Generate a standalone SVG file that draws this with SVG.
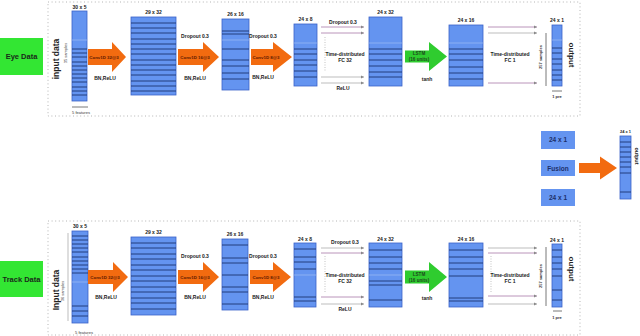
<svg xmlns="http://www.w3.org/2000/svg" width="640" height="336" viewBox="0 0 640 336">
<defs>
<style>
.bg{fill:#ffffff}
.border{fill:none;stroke:#b4b4b4;stroke-width:1;stroke-dasharray:1 2.6}
.blk{fill:#6494f0;stroke:#3a62c8;stroke-width:0.8}
.st{fill:none;stroke:#1c3470;stroke-width:0.9}
.stl{fill:none;stroke:#a8c2f6;stroke-width:0.6}
.orange{fill:#f26b10}
.lstm{fill:#2fcc2f}
.src{fill:#33e633}
.t{font-family:"Liberation Sans",Arial,sans-serif;font-weight:bold;font-size:5px;fill:#222;text-anchor:middle}
.ta{font-family:"Liberation Sans",Arial,sans-serif;font-weight:bold;font-size:4.4px;fill:#5a1800;text-anchor:middle}
.tg{font-family:"Liberation Sans",Arial,sans-serif;font-weight:bold;font-size:4.6px;fill:#1d4a1d;text-anchor:middle}
.ts{font-family:"Liberation Sans",Arial,sans-serif;font-size:4px;fill:#333;text-anchor:middle}
.big{font-family:"Liberation Sans",Arial,sans-serif;font-weight:bold;font-size:8.5px;fill:#222;text-anchor:middle}
.src-t{font-family:"Liberation Sans",Arial,sans-serif;font-weight:bold;font-size:7.5px;fill:#1a2a1a;text-anchor:middle}
.fz{fill:#6494f0}
.fzt{font-family:"Liberation Sans",Arial,sans-serif;font-weight:bold;font-size:6.5px;fill:#1c2f6a;text-anchor:middle}
.lp{fill:none;stroke:#a878a8;stroke-width:0.8}
.lg{fill:none;stroke:#a0a0a0;stroke-width:0.7}
.ld{fill:none;stroke:#555;stroke-width:0.8}
.dot{fill:none;stroke:#aaa;stroke-width:0.7;stroke-dasharray:1 1.5}
</style>
<marker id="ah" markerWidth="4" markerHeight="4" refX="3" refY="2" orient="auto" markerUnits="userSpaceOnUse"><path d="M0,0.5 L3,2 L0,3.5 Z" fill="#888"/></marker>
</defs>
<rect class="bg" x="0" y="0" width="640" height="336"/>

<!-- ========== TOP ROW (Eye) ========== -->
<rect class="border" x="48" y="2" width="532" height="114"/>
<g id="eye-data">
<rect class="src" x="0" y="38" width="43" height="37"/>
<text class="src-t" x="21.5" y="59">Eye Data</text>
</g>
<g id="eye-input">
<text class="big" transform="translate(59,59) rotate(-90)">input data</text>
<text class="ts" transform="translate(67,53) rotate(-90)">35 samples</text>
<rect class="blk" x="72" y="11" width="15" height="90"/>
<path class="stl" d="M72 40H87"/>
<path class="st" d="M72 49H87M72 53H87M72 57H87M72 62H87M72 66H87M72 70H87M72 74H87M72 78H87M72 82H87M72 87H87M72 91H87M72 95H87"/>
<text class="t" x="79.5" y="8.5">30 x 5</text>
<text class="ts" x="81" y="114">5 features</text>
</g>
<g id="eye-conv1">
<rect class="blk" x="131" y="17" width="45" height="78"/>
<path class="st" d="M131 23H176M131 28H176M131 33H176M131 39H176M131 44H176M131 49H176M131 54H176M131 60H176M131 65H176M131 70H176M131 75H176M131 81H176M131 86H176M131 91H176"/>
<text class="t" x="153.5" y="14">29 x 32</text>
</g>
<g id="eye-conv2">
<rect class="blk" x="222" y="19" width="27" height="71"/>
<path class="stl" d="M222 40H249"/>
<path class="st" d="M222 31H249M222 34H249M222 49H249M222 60H249M222 66H249M222 73H249M222 79H249"/>
<text class="t" x="235.5" y="16">26 x 16</text>
</g>
<g id="eye-conv3">
<rect class="blk" x="294" y="24" width="23" height="62"/>
<path class="stl" d="M294 43H317"/>
<path class="st" d="M294 49H317M294 54H317M294 60H317M294 65H317M294 71H317M294 77H317"/>
<text class="t" x="305.5" y="21">24 x 8</text>
</g>
<g id="eye-fc32">
<rect class="blk" x="369" y="17" width="33" height="69"/>
<path class="stl" d="M369 43H402"/>
<path class="st" d="M369 49H402M369 54H402M369 60H402M369 66H402M369 72H402M369 77H402"/>
<text class="t" x="385.5" y="14">24 x 32</text>
</g>
<g id="eye-lstm">
<rect class="blk" x="449" y="25" width="34" height="61"/>
<path class="stl" d="M449 43H483"/>
<path class="st" d="M449 49H483M449 54H483M449 60H483M449 67H483M449 73H483M449 79H483"/>
<text class="t" x="466" y="22">24 x 16</text>
</g>
<g id="eye-output">
<rect class="blk" x="552" y="25" width="10" height="61"/>
<path class="stl" d="M552 40H562"/>
<path class="st" d="M552 48H562M552 53H562M552 59H562M552 64H562M552 70H562M552 75H562M552 80H562"/>
<text class="t" x="557" y="22">24 x 1</text>
<text class="ts" x="557" y="98" style="font-weight:bold">1 pre</text>
<text class="big" transform="translate(569,55) rotate(90)" style="font-size:8px">output</text>
</g>

<g id="connectors-top">
<path class="orange" d="M88 49H112V42L126 57L112 72V65H88Z"/>
<text class="ta" x="104" y="58.5">Conv1D 32@3</text>
<text class="t" x="105" y="80">BN,ReLU</text>
<text class="t" x="195" y="38">Dropout 0.3</text>
<path class="orange" d="M178 49H203V42L219 57L203 72V65H178Z"/>
<text class="ta" x="195" y="58.5">Conv1D 16@3</text>
<text class="t" x="195" y="80">BN,ReLU</text>
<text class="t" x="263" y="38">Dropout 0.3</text>
<path class="orange" d="M251 49H273V42L292 57L273 72V65H251Z"/>
<text class="ta" x="266" y="58.5">Conv1D 8@3</text>
<text class="t" x="263" y="79">BN,ReLU</text>
<text class="t" x="343" y="24">Dropout 0.3</text>
<path class="lp" d="M321 27H364" marker-end="url(#ah)"/>
<path class="lp" d="M321 33H364" marker-end="url(#ah)"/>
<path class="dot" d="M325 37V72"/>
<text class="t" x="345" y="56">Time-distributed</text>
<text class="t" x="345" y="62">FC 32</text>
<path class="lg" d="M321 77H364" marker-end="url(#ah)"/>
<path class="lg" d="M321 83H364" marker-end="url(#ah)"/>
<text class="t" x="343" y="90">ReLU</text>
<path class="lstm" d="M405 50.5H429V42L447 56.5L429 71V62.5H405Z"/>
<text class="tg" x="419" y="55">LSTM</text>
<text class="tg" x="419" y="61">(16 units)</text>
<text class="t" x="427" y="81">tanh</text>
<path class="lp" d="M488 27H537" marker-end="url(#ah)"/>
<path class="lg" d="M488 33H537" marker-end="url(#ah)"/>
<text class="t" x="510" y="56">Time-distributed</text>
<text class="t" x="510" y="62">FC 1</text>
<path class="lp" d="M488 83H537" marker-end="url(#ah)"/>
<path class="ld" d="M546 33V86"/>
<text class="ts" transform="translate(542,57) rotate(-90)" style="font-weight:bold">257 samples</text>
<path class="ld" d="M552 91H562"/>
<path class="ld" d="M72 107H88"/>
</g>

<!-- ========== FUSION ========== -->
<g id="fusion-in1">
<rect class="fz" x="541" y="131" width="34" height="18"/>
<text class="fzt" x="558" y="142">24 x 1</text>
</g>
<g id="fusion">
<rect class="fz" x="541" y="160" width="34" height="16"/>
<text class="fzt" x="558" y="170.5">Fusion</text>
</g>
<g id="fusion-in2">
<rect class="fz" x="541" y="189" width="34" height="17"/>
<text class="fzt" x="558" y="199.5">24 x 1</text>
</g>
<g id="fusion-output">
<rect class="blk" x="620" y="136" width="11" height="63"/>
<path class="st" d="M620 142H631M620 147H631M620 152H631M620 157H631M620 162H631M620 167H631M620 173H631M620 192H631"/>
<text class="t" x="625.5" y="133" style="font-size:4px">24 x 1</text>
<text class="t" transform="translate(635,156) rotate(90)" style="font-size:5.5px">output</text>
</g>
<g id="connectors-fusion">
<path class="orange" d="M579 163H600V156.5L617 168L600 179.5V173H579Z"/>
</g>

<!-- ========== BOTTOM ROW (Track) ========== -->
<rect class="border" x="48" y="221" width="532" height="114"/>
<g id="track-data">
<rect class="src" x="0" y="261" width="43" height="36"/>
<text class="src-t" x="21.5" y="282">Track Data</text>
</g>
<g id="track-input">
<text class="big" transform="translate(59,290) rotate(-90)">Input data</text>
<text class="ts" transform="translate(64,291) rotate(-90)">36 samples</text>
<path class="lg" d="M68 233V321"/>
<rect class="blk" x="72" y="231" width="16" height="92"/>
<path class="st" d="M72 236H88M72 240H88M72 244H88M72 248H88M72 252H88M72 257H88M72 261H88M72 265H88M72 269H88M72 273H88M72 306H88M72 311H88M72 316H88"/>
<path class="stl" d="M72 282H88"/>
<text class="t" x="80" y="228">30 x 5</text>
<text class="ts" x="84" y="334">5 features</text>
</g>
<g id="track-conv1">
<rect class="blk" x="131" y="237" width="45" height="78"/>
<path class="st" d="M131 243H176M131 248H176M131 254H176M131 259H176M131 265H176M131 270H176M131 276H176M131 281H176M131 287H176M131 292H176M131 298H176M131 303H176M131 309H176"/>
<text class="t" x="153.5" y="234">29 x 32</text>
</g>
<g id="track-conv2">
<rect class="blk" x="222" y="239" width="26" height="71"/>
<path class="st" d="M222 245H248M222 258H248M222 263H248M222 275H248M222 287H248M222 292H248M222 304H248"/>
<text class="t" x="235" y="236">26 x 16</text>
</g>
<g id="track-conv3">
<rect class="blk" x="294" y="243" width="22" height="64"/>
<path class="stl" d="M294 275H316"/>
<path class="st" d="M294 249H316M294 257H316M294 262H316M294 269H316M294 297H316M294 301H316"/>
<text class="t" x="305" y="241">24 x 8</text>
</g>
<g id="track-fc32">
<rect class="blk" x="369" y="243" width="33" height="64"/>
<path class="stl" d="M369 275H402"/>
<path class="st" d="M369 250H402M369 257H402M369 263H402M369 269H402M369 281H402M369 285H402M369 300H402"/>
<text class="t" x="385.5" y="241">24 x 32</text>
</g>
<g id="track-lstm">
<rect class="blk" x="449" y="243" width="34" height="64"/>
<path class="st" d="M449 250H483M449 257H483M449 263H483M449 269H483M449 276H483M449 298H483M449 301H483"/>
<text class="t" x="466" y="241">24 x 16</text>
</g>
<g id="track-output">
<rect class="blk" x="552" y="244" width="10" height="63"/>
<path class="st" d="M552 250H562M552 257H562M552 263H562M552 269H562M552 276H562M552 290H562M552 300H562"/>
<text class="t" x="557" y="242">24 x 1</text>
<text class="ts" x="557" y="319" style="font-weight:bold">1 pre</text>
<text class="big" transform="translate(569,269) rotate(90)" style="font-size:8px">output</text>
</g>

<g id="connectors-bottom">
<path class="orange" d="M88 270H113V262L128 277L113 292V284H88Z"/>
<text class="ta" x="105" y="278.5">Conv1D 32@3</text>
<text class="t" x="106" y="299">BN,ReLU</text>
<text class="t" x="195" y="258">Dropout 0.3</text>
<path class="orange" d="M178 270H203V262L219 277L203 292V284H178Z"/>
<text class="ta" x="195" y="278.5">Conv1D 16@3</text>
<text class="t" x="195" y="299">BN,ReLU</text>
<text class="t" x="263" y="258">Dropout 0.3</text>
<path class="orange" d="M250 270H273V262L291 277L273 292V284H250Z"/>
<text class="ta" x="266" y="278.5">Conv1D 8@3</text>
<text class="t" x="263" y="299">BN,ReLU</text>
<text class="t" x="345" y="244">Dropout 0.3</text>
<path class="lg" d="M321 248H364" marker-end="url(#ah)"/>
<path class="lp" d="M321 253H364" marker-end="url(#ah)"/>
<path class="dot" d="M325 256V292"/>
<text class="t" x="345" y="277">Time-distributed</text>
<text class="t" x="345" y="283">FC 32</text>
<path class="lp" d="M321 297H364" marker-end="url(#ah)"/>
<path class="lg" d="M321 304H364" marker-end="url(#ah)"/>
<text class="t" x="345" y="311">ReLU</text>
<path class="lstm" d="M405 270.5H429V262L447 277L429 292V283.5H405Z"/>
<text class="tg" x="419" y="275.5">LSTM</text>
<text class="tg" x="419" y="281.5">(16 units)</text>
<text class="t" x="427" y="300">tanh</text>
<path class="lg" d="M488 248H537" marker-end="url(#ah)"/>
<path class="lp" d="M488 253H537" marker-end="url(#ah)"/>
<path class="dot" d="M491 256V292"/>
<text class="t" x="510" y="277">Time-distributed</text>
<text class="t" x="510" y="283">FC 1</text>
<path class="lp" d="M488 296H537" marker-end="url(#ah)"/>
<path class="lg" d="M488 304H537" marker-end="url(#ah)"/>
<path class="ld" d="M546 247V306"/>
<text class="ts" transform="translate(542,276) rotate(-90)" style="font-weight:bold">257 samples</text>
<path class="ld" d="M553 311H562"/>
</g>
</svg>
